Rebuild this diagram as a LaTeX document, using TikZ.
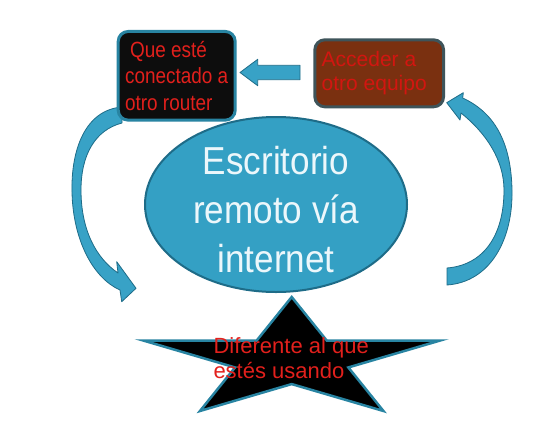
\documentclass[tikz,border=0pt]{standalone}
\usepackage{fontspec}
\setmainfont{Liberation Sans}
\newfontfamily\ellfont[FakeStretch=0.9]{Liberation Sans}
\newfontfamily\blkfont[FakeStretch=0.86]{Liberation Sans}
\usetikzlibrary{shapes.geometric}
\definecolor{tealfill}{RGB}{56,162,198}
\definecolor{tealdark}{RGB}{30,108,136}
\definecolor{ellfill}{RGB}{52,160,196}
\definecolor{blkborder}{RGB}{40,132,162}
\definecolor{brownfill}{RGB}{122,48,16}
\definecolor{brownborder}{RGB}{62,84,90}
\definecolor{txtred}{RGB}{226,32,28}
\definecolor{txtred2}{RGB}{210,22,16}
\definecolor{elltxt}{RGB}{236,247,251}
\begin{document}
\begin{tikzpicture}[x=1pt,y=-1pt,
  arrowshape/.style={fill=tealfill,draw=tealdark,line width=0.8pt,line join=round},
  blackbox/.style={draw=blkborder,line width=3pt,fill=black!95,rounded corners=10pt,
    minimum width=117pt,minimum height=88.7pt,inner sep=3pt,align=left,
    text=txtred,font=\blkfont\fontsize{22}{26.5}\selectfont},
  brownbox/.style={draw=brownborder,line width=3pt,fill=brownfill,rounded corners=10pt,
    minimum width=128.7pt,minimum height=67pt,inner sep=3pt,align=flush left,text width=115pt,
    text=txtred2,font=\fontsize{21}{24}\selectfont},
  ellnode/.style={ellipse,draw=tealdark,line width=2pt,fill=ellfill,
    minimum width=262pt,minimum height=175pt,inner sep=0pt},
  elltext/.style={align=center,text=elltxt,inner sep=0pt,
    font=\ellfont\fontsize{39}{49}\selectfont},
  starshape/.style={fill=black,draw=blkborder,line width=2.5pt,line join=miter},
  startext/.style={align=left,text=txtred,inner sep=0pt,
    font=\fontsize{22}{25.7}\selectfont}]
\useasboundingbox (0,0) rectangle (533,421);
\fill[white] (0,0) rectangle (533,421);

% curved arrow on the left
\draw[arrowshape] (122,107) .. controls (85,110) and (71,150) .. (72,192)
  .. controls (73,240) and (93,278) .. (120,290) -- (121.7,301.7) -- (136,288.3)
  -- (116.7,261.7) -- (118,273) .. controls (96,258) and (81,230) .. (81,190)
  .. controls (81,155) and (95,130) .. (122,123) -- cycle;

% curved arrow on the right
\draw[arrowshape] (447,285) .. controls (490,282) and (513,240) .. (512,190)
  .. controls (511,140) and (493,112) .. (462.7,98) -- (463.3,92.7) -- (446.7,102.7)
  -- (460,120) -- (461,113) .. controls (486,133) and (504,160) .. (504,190)
  .. controls (504,235) and (484,265) .. (447,268) -- cycle;

% ellipse
\node[ellnode] (ell) at (276,204.5) {};
\node[elltext] (elltxt) at (276,210) {Escritorio\\remoto vía\\internet};

% boxes
\node[blackbox] (black) at (176.7,75.8) {\hspace*{5pt}Que esté\\conectado a\\otro router};
\node[brownbox] (brown) at (379.2,73.3) {Acceder a\\otro equipo};

% straight arrow between the boxes
\draw[arrowshape] (300,65.3) -- (257.7,65.3) -- (257.7,59.3) -- (240,72.5)
  -- (257.7,85.7) -- (257.7,79.7) -- (300,79.7) -- cycle;

% star
\coordinate (starc) at (291.7,360);
\begin{scope}[shift={(starc)},x=156pt,y=63pt]
\draw[starshape] (90:1) -- (126:0.382) -- (162:1) -- (198:0.382) -- (234:1)
  -- (270:0.382) -- (306:1) -- (342:0.382) -- (18:1) -- (54:0.382) -- cycle;
\end{scope}
\node[startext,anchor=west] (startxt) at (213.3,358) {Diferente al que\\estés usando};
\end{tikzpicture}
\end{document}
